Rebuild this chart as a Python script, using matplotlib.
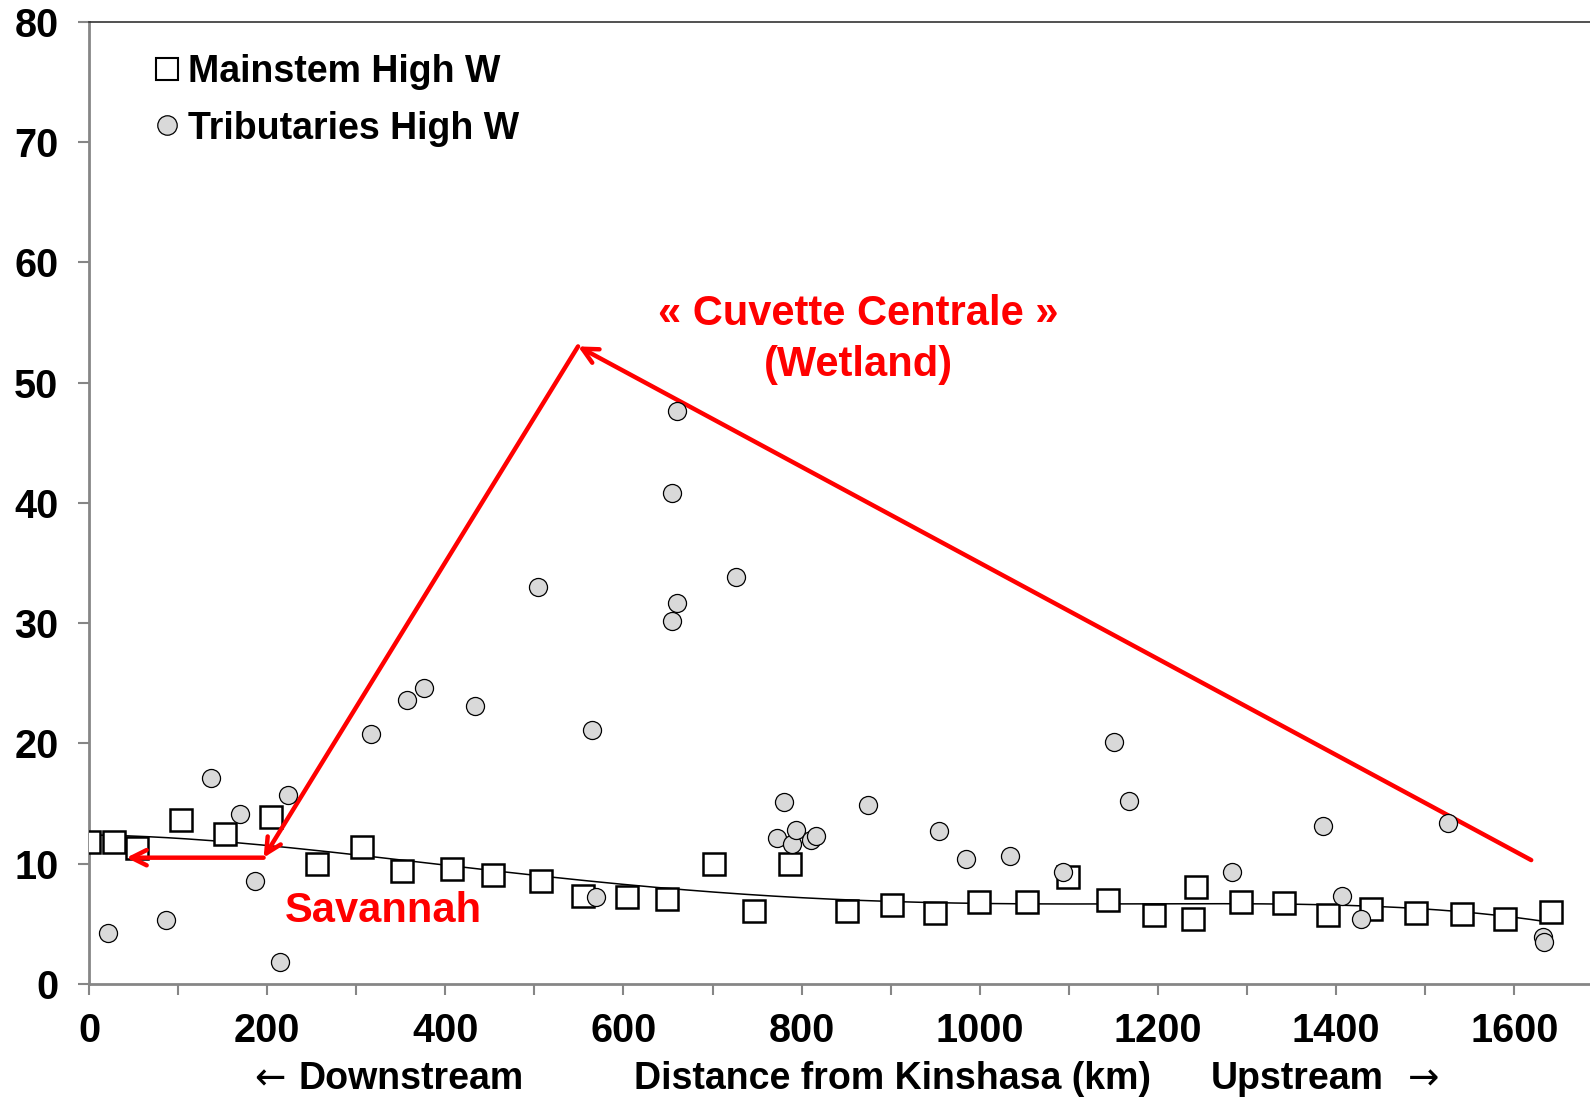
import numpy as np
import matplotlib
matplotlib.use("Agg")
import matplotlib.pyplot as plt
from matplotlib.lines import Line2D

plt.rcParams['font.family'] = ['Liberation Sans', 'DejaVu Sans']
plt.rcParams['font.weight'] = 'bold'

# Mainstem High W
main_x = [0, 28, 54, 103, 153, 204, 256, 307, 351, 408, 454, 507, 555, 604, 649, 702,
          746, 787, 851, 901, 950, 999, 1053, 1099, 1144, 1195, 1239, 1243, 1293, 1342,
          1391, 1439, 1490, 1541, 1590, 1641]
main_y = [11.8, 11.8, 11.3, 13.6, 12.5, 13.9, 10.0, 11.4, 9.4, 9.6, 9.1, 8.6, 7.3, 7.2,
          7.1, 10.0, 6.1, 10.0, 6.1, 6.6, 5.9, 6.8, 6.8, 8.9, 7.0, 5.7, 5.4, 8.1, 6.8,
          6.7, 5.7, 6.2, 5.9, 5.8, 5.4, 6.0]

# Tributaries High W
trib_x = [21, 87, 137, 170, 186, 214, 223, 317, 357, 376, 433, 504, 565, 569, 655, 655,
          660, 660, 726, 772, 780, 789, 794, 811, 816, 874, 954, 984, 1034, 1093, 1151,
          1167, 1283, 1385, 1407, 1428, 1526, 1632, 1633]
trib_y = [4.2, 5.3, 17.1, 14.1, 8.6, 1.8, 15.7, 20.8, 23.6, 24.6, 23.1, 33.0, 21.1, 7.2,
          40.8, 30.2, 47.6, 31.7, 33.8, 12.1, 15.1, 11.6, 12.8, 12.0, 12.3, 14.9, 12.7,
          10.4, 10.6, 9.3, 20.1, 15.2, 9.3, 13.1, 7.3, 5.4, 13.4, 3.9, 3.5]

x_ticks = [0, 200, 400, 600, 800, 1000, 1200, 1400, 1600]
y_ticks = [0, 10, 20, 30, 40, 50, 60, 70, 80]

# annotation anchor points (data coords)
apex = (549, 53.0)
right_end = (1619, 10.3)
savannah_pt = (196, 10.5)
savannah_left = (42, 10.5)

fig = plt.figure(figsize=(15.9, 11.01), dpi=100)
ax = fig.add_axes([89/1590, 117/1101, 1 - 89/1590, (1079.4 - 117)/1101])
ax.set_xlim(0, 1685)
ax.set_ylim(0, 80)

gray = '#868686'
for s in ['left', 'bottom']:
    ax.spines[s].set_color(gray)
    ax.spines[s].set_linewidth(2)
ax.spines['top'].set_color('#333333')
ax.spines['top'].set_linewidth(1.2)
ax.spines['right'].set_visible(False)

ax.set_xticks(x_ticks)
ax.set_xticks(np.arange(100, 1700, 200), minor=True)
ax.set_yticks(y_ticks)
ax.tick_params(axis='x', which='both', direction='out', length=8, width=1.5, color=gray,
               labelsize=28.5, pad=12)
ax.tick_params(axis='y', which='both', direction='out', length=8, width=1.5, color=gray,
               labelsize=28.5, pad=14)
for lab in ax.get_xticklabels() + ax.get_yticklabels():
    lab.set_fontweight('bold')

# trend line (polynomial fit of mainstem)
coef = np.polyfit(main_x, main_y, 4)
xx = np.linspace(min(main_x), max(main_x), 300)
ax.plot(xx, np.polyval(coef, xx), color='black', lw=1.1, zorder=3)

ax.plot(main_x, main_y, ls='none', marker='s', ms=16, mfc='white', mec='black', mew=1.8,
        zorder=4, label='Mainstem High W')
ax.plot(trib_x, trib_y, ls='none', marker='o', ms=13, mfc='#d9d9d9', mec='black', mew=0.9,
        zorder=6, label='Tributaries High W')

red = '#ff0000'
arrow_kw = dict(arrowstyle='->,head_length=1.1,head_width=0.55', color=red, lw=3.2,
                shrinkA=0, shrinkB=0)
ax.annotate('', xy=apex, xytext=right_end, arrowprops=arrow_kw, zorder=5)
ax.annotate('', xy=savannah_pt, xytext=apex, arrowprops=arrow_kw, zorder=5)
ax.annotate('', xy=savannah_left, xytext=savannah_pt, arrowprops=arrow_kw, zorder=5)

ax.text(864, 55.7, '« Cuvette Centrale »', color=red, fontsize=30, fontweight='bold',
        ha='center', va='center')
ax.text(864, 51.45, '(Wetland)', color=red, fontsize=30, fontweight='bold',
        ha='center', va='center')
ax.text(330, 6.1, 'Savannah', color=red, fontsize=30, fontweight='bold',
        ha='center', va='center')

# x-axis label pieces
ylab = 1 - 1079/1101
fig.text(270/1590, ylab, '\u2190', fontsize=27, family='DejaVu Sans', fontweight='normal',
         ha='center', va='center')
fig.text(411/1590, ylab, 'Downstream', fontsize=27, fontweight='bold',
         ha='center', va='center')
fig.text(892/1590, ylab, 'Distance from Kinshasa (km)', fontsize=27,
         fontweight='bold', ha='center', va='center')
fig.text(1297/1590, ylab, 'Upstream', fontsize=27, fontweight='bold',
         ha='center', va='center')
fig.text(1424/1590, ylab, '\u2192', fontsize=27, family='DejaVu Sans', fontweight='normal',
         ha='center', va='center')

handles = [Line2D([], [], ls='none', marker='s', ms=16, mfc='white', mec='black', mew=1.5),
           Line2D([], [], ls='none', marker='o', ms=14, mfc='#d9d9d9', mec='black', mew=0.9)]
leg = ax.legend(handles, ['Mainstem High W', 'Tributaries High W'], loc='upper left',
                bbox_to_anchor=(0.032, 0.982), frameon=False, fontsize=27, handlelength=0.8,
                handletextpad=0.15, labelspacing=0.55, borderaxespad=0)
for t in leg.get_texts():
    t.set_fontweight('bold')

fig.savefig('out.png', dpi=100)
